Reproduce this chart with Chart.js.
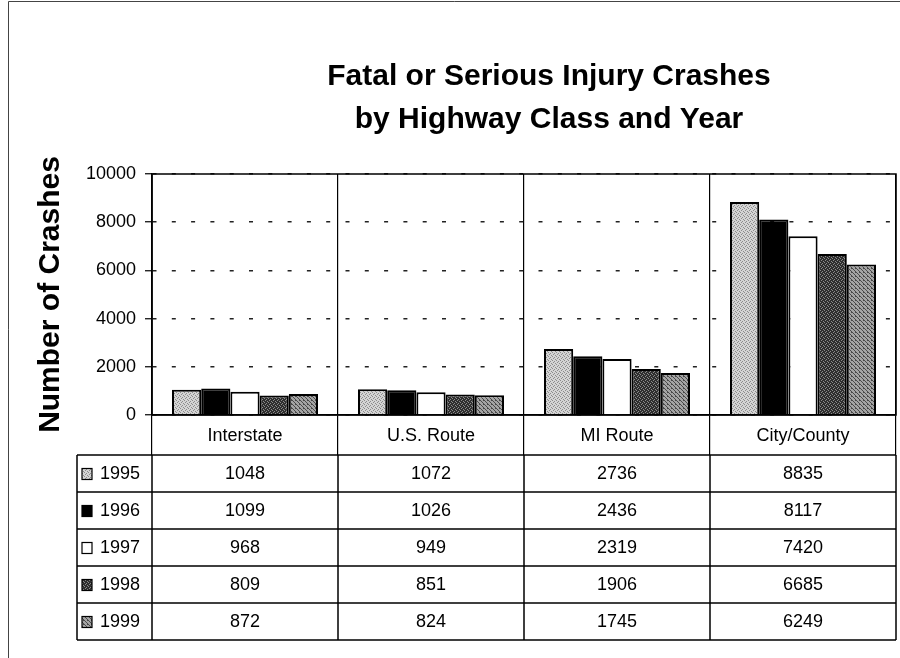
<!DOCTYPE html>
<html>
<head>
<meta charset="utf-8">
<script src="https://cdn.jsdelivr.net/npm/chart.js@4/dist/chart.umd.min.js"></script>
<style>
  body { margin: 0; background: #fff; }
  #wrap { width: 900px; height: 658px; }
</style>
</head>
<body>
<div id="wrap"><canvas id="myChartCrashes" width="900" height="658"></canvas></div>
<script>
const categories = ['Interstate', 'U.S. Route', 'MI Route', 'City/County']
const years = ['1995', '1996', '1997', '1998', '1999']
const crashes1995 = [1048, 1072, 2736, 8835]
const crashes1996 = [1099, 1026, 2436, 8117]
const crashes1997 = [968, 949, 2319, 7420]
const crashes1998 = [809, 851, 1906, 6685]
const crashes1999 = [872, 824, 1745, 6249]
const yMax = 10000
const yStep = 2000
const titleLines = ['Fatal or Serious Injury Crashes', 'by Highway Class and Year']
const yTitle = 'Number of Crashes'

const FONT = "'Liberation Sans', Arial, Helvetica, sans-serif"

// small stipple / hatch textures like the old printed fills
const makePattern = (base, ink, cells) => {
    const c = document.createElement('canvas')
    c.width = 4
    c.height = 4
    const g = c.getContext('2d')
    g.fillStyle = base
    g.fillRect(0, 0, 4, 4)
    g.fillStyle = ink
    cells.forEach(([px, py]) => g.fillRect(px, py, 1, 1))
    return g.createPattern(c, 'repeat')
}

const fills = [
    makePattern('#d4d4d4', '#8c8c8c', [[0, 0], [2, 1], [1, 2], [3, 3]]),
    '#000000',
    '#ffffff',
    makePattern('#2e2e2e', '#8a8a8a', [[1, 0], [3, 1], [0, 2], [2, 3]]),
    makePattern('#a4a4a4', '#4a4a4a', [[0, 0], [1, 1], [2, 2], [3, 3], [3, 0]])
]

const seriesValues = [crashes1995, crashes1996, crashes1997, crashes1998, crashes1999]

const datasets = years.map((year, i) => ({
    label: year,
    data: seriesValues[i],
    backgroundColor: fills[i],
    borderColor: '#000',
    borderWidth: 2,
    borderSkipped: 'bottom',
    categoryPercentage: 0.785,
    barPercentage: 1
}))

/* titulo, marco y tabla de datos */
const extrasPlugin = {
    id: 'extras',
    afterDraw(chart) {
        const {ctx, chartArea, scales: {x}} = chart
        ctx.save()

        // outer frame
        ctx.strokeStyle = '#444'
        ctx.lineWidth = 1
        ctx.beginPath()
        ctx.moveTo(8.5, 658)
        ctx.lineTo(8.5, 1.5)
        ctx.lineTo(900, 1.5)
        ctx.stroke()

        // title
        ctx.fillStyle = '#000'
        ctx.textAlign = 'center'
        ctx.textBaseline = 'alphabetic'
        ctx.font = 'bold 30px ' + FONT
        ctx.fillText(titleLines[0], 549, 85)
        ctx.fillText(titleLines[1], 549, 128)

        // plot frame
        ctx.strokeStyle = '#000'
        ctx.lineWidth = 1.5
        ctx.strokeRect(chartArea.left, chartArea.top, chartArea.right - chartArea.left, chartArea.bottom - chartArea.top)

        // data table
        const top = x.bottom
        const rowH = 37
        const labelLeft = 77
        const colW = (chartArea.right - chartArea.left) / categories.length
        const bottom = top + rowH * years.length

        ctx.lineWidth = 1.5
        ctx.beginPath()
        for (let r = 0; r <= years.length; r++) {
            const yy = top + r * rowH
            ctx.moveTo(labelLeft, yy)
            ctx.lineTo(chartArea.right, yy)
        }
        ctx.moveTo(labelLeft, top)
        ctx.lineTo(labelLeft, bottom)
        for (let c = 0; c <= categories.length; c++) {
            const xx = chartArea.left + c * colW
            ctx.moveTo(xx, top)
            ctx.lineTo(xx, bottom)
        }
        ctx.stroke()

        ctx.textBaseline = 'middle'
        ctx.font = '18px ' + FONT
        years.forEach((year, r) => {
            const cy = top + r * rowH + rowH / 2
            // swatch
            ctx.fillStyle = fills[r]
            ctx.fillRect(82, cy - 5, 10, 11)
            ctx.lineWidth = 1.2
            ctx.strokeStyle = '#000'
            ctx.strokeRect(82, cy - 5, 10, 11)
            ctx.fillStyle = '#000'
            ctx.textAlign = 'left'
            ctx.fillText(year, 100, cy + 1)
            ctx.textAlign = 'center'
            seriesValues[r].forEach((v, c) => {
                ctx.fillText(String(v), x.getPixelForValue(c), cy + 1)
            })
        })
        ctx.restore()
    }
}

Chart.defaults.font.family = FONT
Chart.defaults.color = '#000'

const data = { labels: categories, datasets }

const options = {
    responsive: false,
    animation: false,
    layout: { padding: { top: 174, right: 4, bottom: 203, left: 0 } },
    plugins: {
        legend: { display: false },
        title: { display: false },
        tooltip: { enabled: false }
    },
    scales: {
        x: {
            offset: true,
            grid: {
                offset: true,
                drawOnChartArea: true,
                drawTicks: true,
                tickLength: 40,
                color: '#000',
                lineWidth: 1.2
            },
            border: { color: '#000', width: 1.5 },
            ticks: {
                padding: -30,
                maxRotation: 0,
                font: { size: 18 },
                color: '#000'
            },
            afterFit: scale => { scale.height = 40 }
        },
        y: {
            min: 0,
            max: yMax,
            ticks: {
                stepSize: yStep,
                padding: 9,
                font: { size: 18 },
                color: '#000',
                callback: value => String(value)
            },
            grid: {
                color: '#222',
                lineWidth: 1.5,
                tickLength: 7,
                tickColor: '#000',
                tickWidth: 1.2,
                tickBorderDash: []
            },
            border: { color: '#000', width: 1.5, dash: [4, 15.3] },
            title: {
                display: true,
                text: yTitle,
                font: { size: 30, weight: 'bold' },
                color: '#000',
                padding: { top: 33, bottom: 0 }
            },
            afterFit: scale => { scale.width = 152 }
        }
    }
}

const myChartCrashes = new Chart('myChartCrashes', { type: 'bar', data, options, plugins: [extrasPlugin] })
</script>
</body>
</html>
